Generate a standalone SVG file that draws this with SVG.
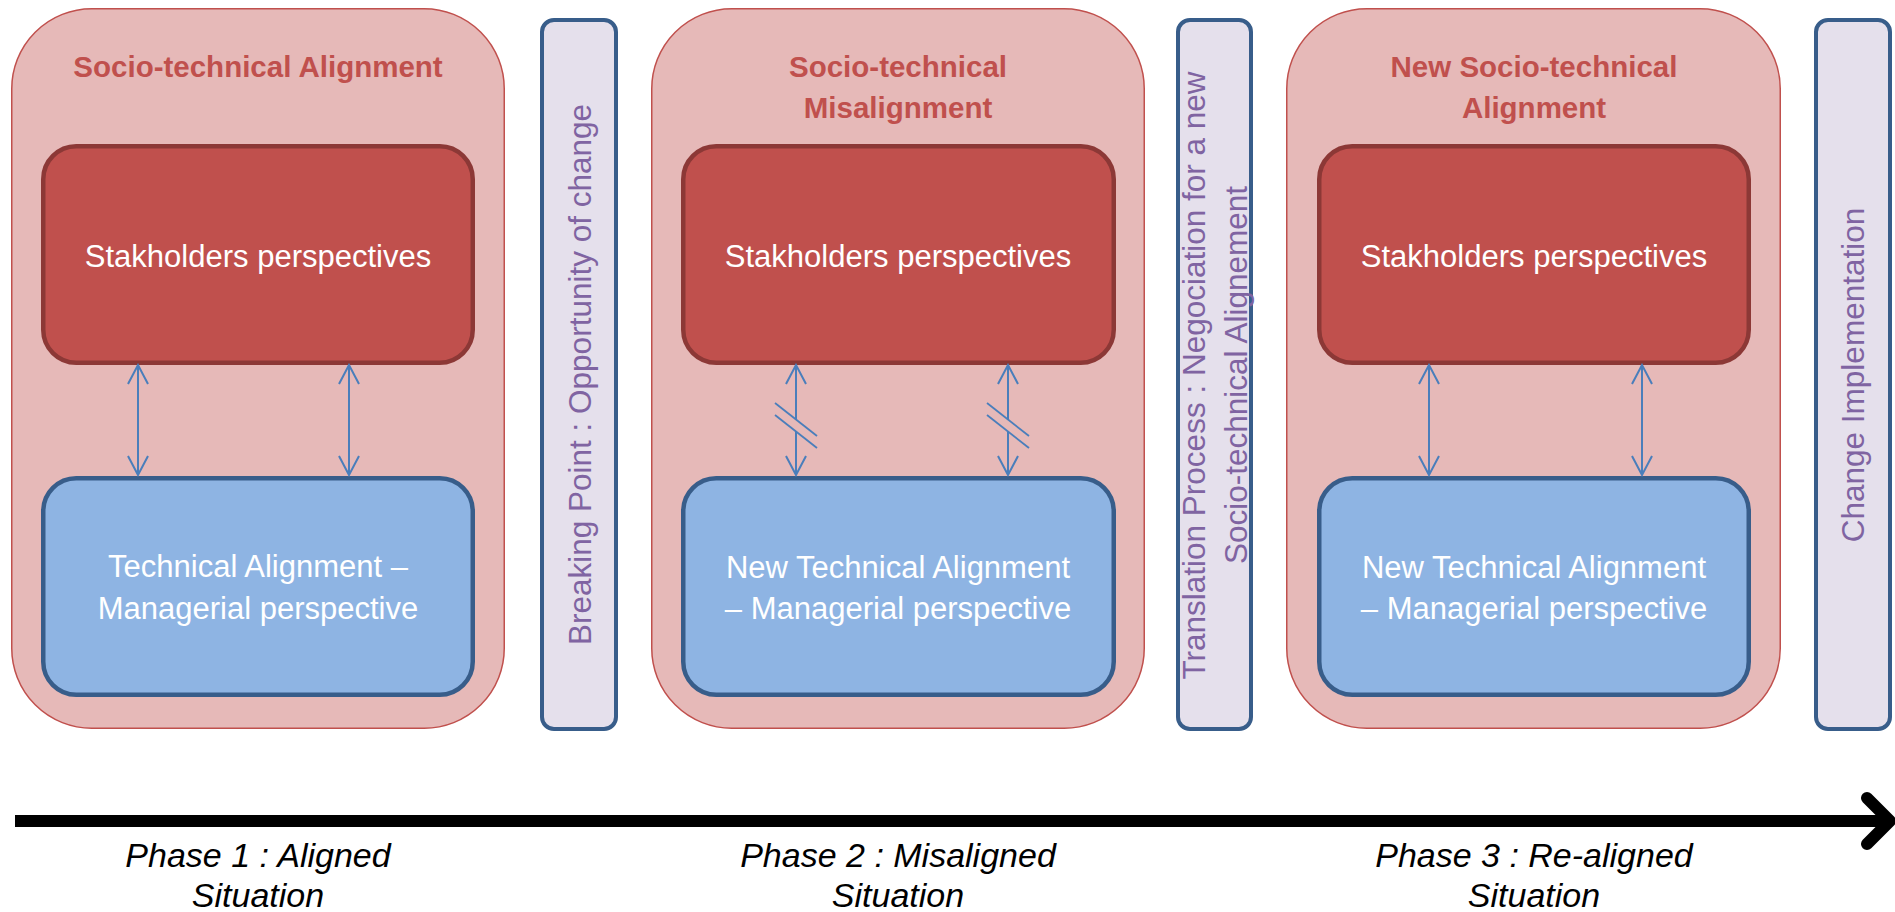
<svg xmlns="http://www.w3.org/2000/svg" width="1895" height="912" viewBox="0 0 1895 912">
<defs>
<style>
.outer{fill:#E6B9B8;stroke:#C0504D;stroke-width:1.5}
.stake{fill:#C0504D;stroke:#8C3836;stroke-width:4.5}
.tech{fill:#8EB4E3;stroke:#385D8A;stroke-width:4.5}
.bar{fill:#E5E0EC;stroke:#385D8A;stroke-width:4}
text{font-family:"Liberation Sans",Arial,sans-serif;text-anchor:middle}
.title{font-weight:bold;font-size:29.5px;fill:#C0504D}
.box{font-size:31px;fill:#FFFFFF}
.vert{font-size:31.5px;fill:#8064A2}
.phase{font-style:italic;font-size:34px;fill:#000000}
.link{stroke:#4A7EBB;stroke-width:2;fill:none}
.brk{stroke:#4A7EBB;stroke-width:1.8;fill:none}
</style>
<marker id="ah" viewBox="-22 -12 24 24" refX="0" refY="0" markerWidth="24" markerHeight="24" markerUnits="userSpaceOnUse" orient="auto-start-reverse">
<path d="M-19,-10 L0,0 L-19,10" fill="none" stroke="#4A7EBB" stroke-width="2"/>
</marker>
</defs>

<g id="phase1">
<rect class="outer" x="11.75" y="8.75" width="492.5" height="719.5" rx="80" ry="80"/>
<text class="title" x="258" y="77">Socio-technical Alignment</text>
</g>
<g id="stake1">
<rect class="stake" x="43.25" y="146.25" width="429.5" height="216.5" rx="33" ry="33"/>
<text class="box" x="258" y="267">Stakholders perspectives</text>
</g>
<g id="tech1">
<rect class="tech" x="43.25" y="478.25" width="429.5" height="216.5" rx="33" ry="33"/>
<text class="box" x="258" y="577">Technical Alignment –</text>
<text class="box" x="258" y="619">Managerial perspective</text>
</g>

<g id="breaking">
<rect class="bar" x="542" y="20" width="74" height="709" rx="12" ry="12"/>
<text class="vert" transform="translate(591,374.5) rotate(-90)">Breaking Point : Opportunity of change</text>
</g>

<g id="phase2">
<rect class="outer" x="651.75" y="8.75" width="492.5" height="719.5" rx="80" ry="80"/>
<text class="title" x="898" y="77">Socio-technical</text>
<text class="title" x="898" y="118">Misalignment</text>
</g>
<g id="stake2">
<rect class="stake" x="683.25" y="146.25" width="430.5" height="216.5" rx="33" ry="33"/>
<text class="box" x="898" y="267">Stakholders perspectives</text>
</g>
<g id="tech2">
<rect class="tech" x="683.25" y="478.25" width="430.5" height="216.5" rx="33" ry="33"/>
<text class="box" x="898" y="578">New Technical Alignment</text>
<text class="box" x="898" y="619">– Managerial perspective</text>
</g>

<g id="translation">
<rect class="bar" x="1178" y="20" width="73" height="709" rx="12" ry="12"/>
<text class="vert" transform="translate(1205,375.5) rotate(-90)">Translation Process : Negociation for a new</text>
<text class="vert" transform="translate(1247,375) rotate(-90)">Socio-technical Alignement</text>
</g>

<g id="phase3">
<rect class="outer" x="1286.75" y="8.75" width="493.5" height="719.5" rx="80" ry="80"/>
<text class="title" x="1534" y="77">New Socio-technical</text>
<text class="title" x="1534" y="118">Alignment</text>
</g>
<g id="stake3">
<rect class="stake" x="1319.25" y="146.25" width="429.5" height="216.5" rx="33" ry="33"/>
<text class="box" x="1534" y="267">Stakholders perspectives</text>
</g>
<g id="tech3">
<rect class="tech" x="1319.25" y="478.25" width="429.5" height="216.5" rx="33" ry="33"/>
<text class="box" x="1534" y="578">New Technical Alignment</text>
<text class="box" x="1534" y="619">– Managerial perspective</text>
</g>

<g id="implementation">
<rect class="bar" x="1816" y="20" width="74" height="709" rx="12" ry="12"/>
<text class="vert" transform="translate(1864,375) rotate(-90)">Change Implementation</text>
</g>

<g id="connectors">
<line class="link" x1="138" y1="365" x2="138" y2="475" marker-start="url(#ah)" marker-end="url(#ah)"/>
<line class="link" x1="349" y1="365" x2="349" y2="475" marker-start="url(#ah)" marker-end="url(#ah)"/>
<line class="link" x1="796" y1="365" x2="796" y2="419.5" marker-start="url(#ah)"/>
<line class="link" x1="796" y1="431.5" x2="796" y2="475" marker-end="url(#ah)"/>
<line class="brk" x1="775" y1="403" x2="817" y2="436"/>
<line class="brk" x1="775" y1="415" x2="817" y2="448"/>
<line class="link" x1="1008" y1="365" x2="1008" y2="419.5" marker-start="url(#ah)"/>
<line class="link" x1="1008" y1="431.5" x2="1008" y2="475" marker-end="url(#ah)"/>
<line class="brk" x1="987" y1="403" x2="1029" y2="436"/>
<line class="brk" x1="987" y1="415" x2="1029" y2="448"/>
<line class="link" x1="1429" y1="365" x2="1429" y2="475" marker-start="url(#ah)" marker-end="url(#ah)"/>
<line class="link" x1="1642" y1="365" x2="1642" y2="475" marker-start="url(#ah)" marker-end="url(#ah)"/>
</g>

<g id="timeline">
<line x1="15" y1="821" x2="1886" y2="821" stroke="#000000" stroke-width="12"/>
<polyline points="1867,798 1890,821 1867,844" fill="none" stroke="#000000" stroke-width="12" stroke-linecap="round" stroke-linejoin="round"/>
<text class="phase" x="258" y="867">Phase 1 : Aligned</text>
<text class="phase" x="258" y="907">Situation</text>
<text class="phase" x="898" y="867">Phase 2 : Misaligned</text>
<text class="phase" x="898" y="907">Situation</text>
<text class="phase" x="1534" y="867">Phase 3 : Re-aligned</text>
<text class="phase" x="1534" y="907">Situation</text>
</g>
</svg>
